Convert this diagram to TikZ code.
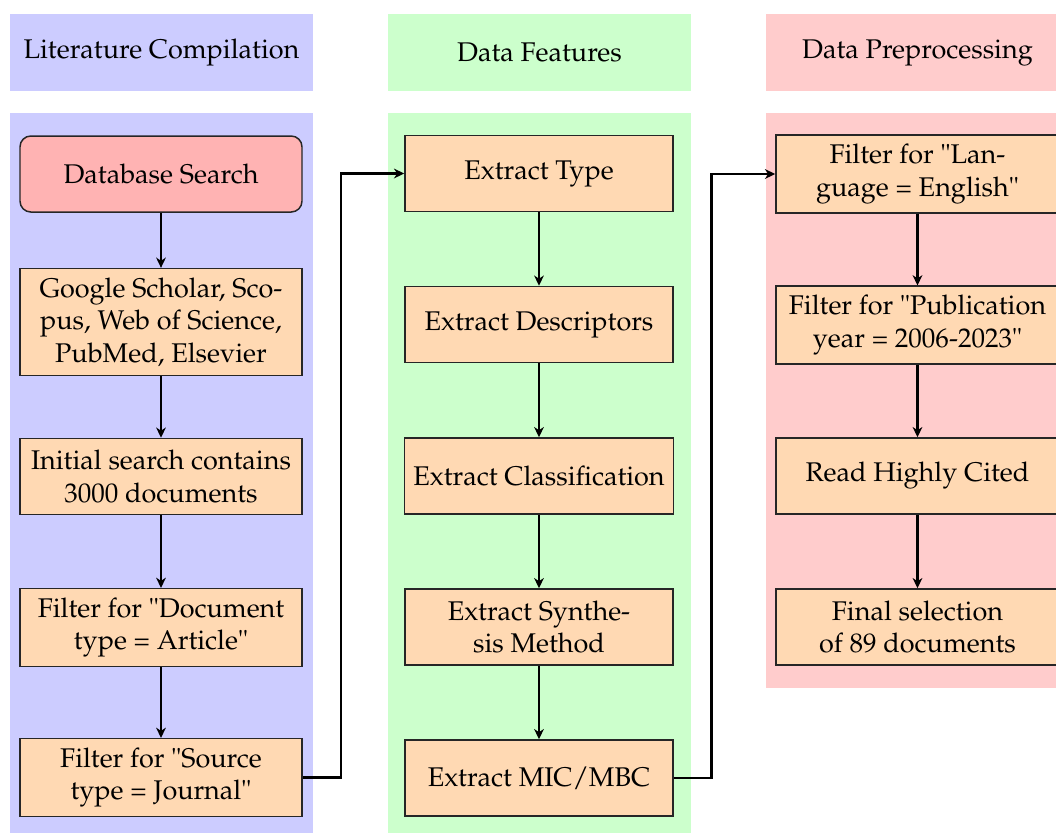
\documentclass[tikz,border=0pt]{standalone}
\usepackage[T1]{fontenc}
\usepackage{mathpazo}
\usetikzlibrary{arrows.meta}
\definecolor{bgblue}{HTML}{CCCCFF}
\definecolor{bggreen}{HTML}{CCFFCC}
\definecolor{bgred}{HTML}{FFCCCC}
\definecolor{boxorange}{HTML}{FFD9B3}
\definecolor{boxred}{HTML}{FFB3B3}
\def\pxu{0.37pt}
\begin{document}
\begin{tikzpicture}[x=0.37pt,y=-0.37pt,
  hdr/.style={minimum width=303*\pxu, minimum height=77*\pxu, inner sep=0pt},
  stepbox/.style={draw=black!85, line width=0.55pt, fill=boxorange, align=center,
    minimum height=76*\pxu, inner sep=3.33pt},
  conn/.style={line width=0.75pt, -{Stealth[length=3.8pt,width=3.6pt,inset=1.2pt]}}
]
\useasboundingbox (0,0) rectangle (1056,832);
% column backgrounds
\fill[bgblue] (10,113) rectangle (313,840);
\fill[bggreen] (388,113) rectangle (691,840);
\fill[bgred] (766,113) rectangle (1069,688);
% headers
\node[hdr, fill=bgblue] (h1) at (161.5,52.5) {Literature Compilation};
\node[hdr, fill=bggreen] (h2) at (539.5,52.5) {Data Features};
\node[hdr, fill=bgred] (h3) at (917.5,52.5) {Data Preprocessing};
% column 1
\node[stepbox, fill=boxred, rounded corners=4pt, minimum width=282*\pxu] (db) at (161,174) {Database Search};
\node[stepbox, minimum width=282*\pxu] (gs) at (161,322) {Google Scholar, Sco-\\pus, Web of Science,\\PubMed, Elsevier};
\node[stepbox, minimum width=282*\pxu] (init) at (161,476.5) {Initial search contains\\3000 documents};
\node[stepbox, minimum width=282*\pxu] (doc) at (161,627.5) {Filter for "Document\\type = Article"};
\node[stepbox, minimum width=282*\pxu] (src) at (161,777.5) {Filter for "Source\\type = Journal"};
% column 2
\node[stepbox, minimum width=268*\pxu] (etype) at (539,173.5) {Extract Type};
\node[stepbox, minimum width=268*\pxu] (edesc) at (539,324.5) {Extract Descriptors};
\node[stepbox, minimum width=268*\pxu] (eclass) at (539,476) {Extract Classification};
\node[stepbox, minimum width=268*\pxu] (esyn) at (539,627) {Extract Synthe-\\sis Method};
\node[stepbox, minimum width=268*\pxu] (emic) at (539,778) {Extract MIC/MBC};
% column 3
\node[stepbox, minimum width=283*\pxu] (lang) at (917.5,174) {Filter for "Lan-\\guage = English"};
\node[stepbox, minimum width=283*\pxu] (pub) at (917.5,325) {Filter for "Publication\\year = 2006-2023"};
\node[stepbox, minimum width=283*\pxu] (read) at (917.5,476) {Read Highly Cited};
\node[stepbox, minimum width=283*\pxu] (final) at (917.5,627) {Final selection\\of 89 documents};
% vertical connectors
\draw[conn] (db) -- (gs);
\draw[conn] (gs) -- (init);
\draw[conn] (init) -- (doc);
\draw[conn] (doc) -- (src);
\draw[conn] (etype) -- (edesc);
\draw[conn] (edesc) -- (eclass);
\draw[conn] (eclass) -- (esyn);
\draw[conn] (esyn) -- (emic);
\draw[conn] (lang) -- (pub);
\draw[conn] (pub) -- (read);
\draw[conn] (read) -- (final);
% cross-column connectors
\coordinate (j1) at (341,500);
\coordinate (j2) at (711.5,500);
\draw[conn] (src.east) -| (j1) |- (etype.west);
\draw[conn] (emic.east) -| (j2) |- (lang.west);
\end{tikzpicture}
\end{document}
